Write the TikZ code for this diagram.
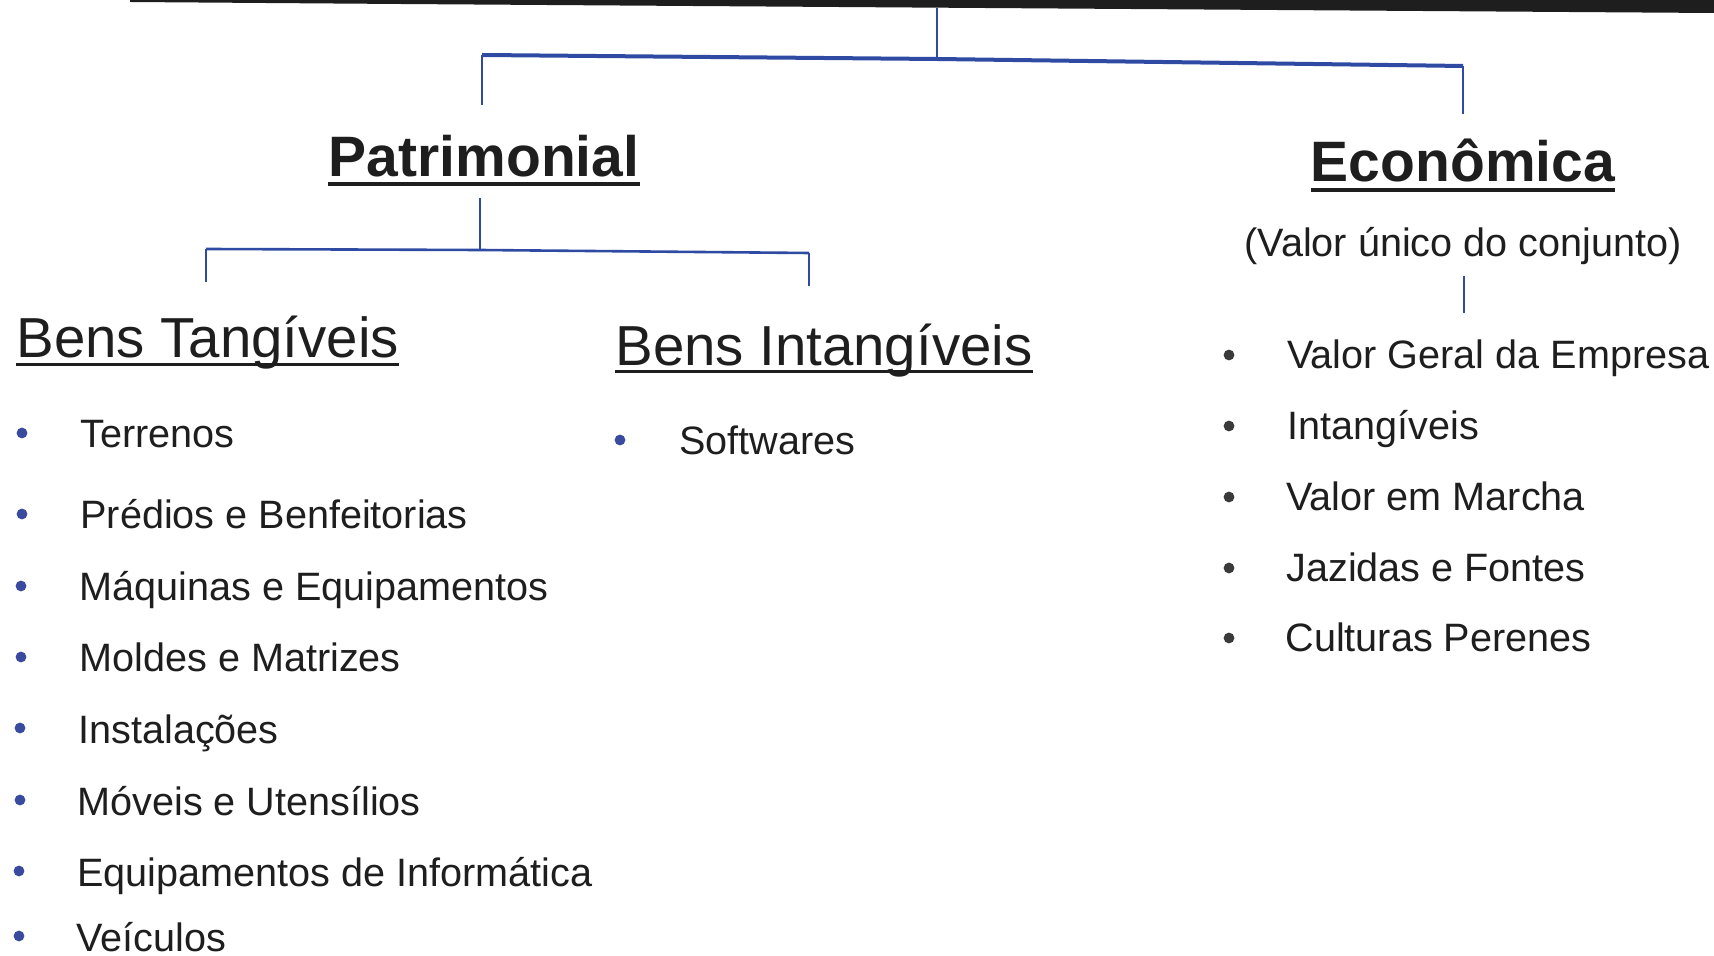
\documentclass[tikz,border=0pt]{standalone}
\usepackage{fontspec}
\setmainfont{Liberation Sans}
\definecolor{lineblue}{HTML}{2F4AA3}
\definecolor{bulletblue}{HTML}{3A4A9E}
\definecolor{bulletgray}{HTML}{3A3A3A}
\definecolor{txt}{HTML}{1E1E1E}
\begin{document}
\begin{tikzpicture}[x=0.5pt,y=-0.5pt,
  conn/.style={draw=lineblue, line width=1.3pt},
  bar/.style={draw=lineblue, line width=2pt},
  titleb/.style={inner sep=0pt, anchor=base, font=\fontsize{28.5}{30}\selectfont\bfseries, text=txt},
  titler/.style={inner sep=0pt, anchor=base west, font=\fontsize{28.2}{30}\selectfont, text=txt},
  item/.style={inner sep=0pt, anchor=base west, font=\fontsize{19.8}{22}\selectfont, text=txt},
  bulblue/.style={circle, fill=bulletblue, inner sep=0pt, minimum size=5.4pt},
  bulgray/.style={circle, fill=bulletgray, inner sep=0pt, minimum size=5.4pt},
  ulbold/.style={draw=txt, line width=2pt},
  ulreg/.style={draw=txt, line width=1.5pt}]
\useasboundingbox (0,0) rectangle (1714,956);
\fill[white] (0,0) rectangle (1714,956);
% top black bar
\fill[txt] (130,0) -- (1714,0) -- (1714,13) -- (400,4) -- (130,2) -- cycle;

% top connectors
\coordinate (top) at (937,8);
\coordinate (j1) at (937,59);
\coordinate (bl1) at (482,55);
\coordinate (br1) at (1463,66);
\coordinate (dl1) at (482,105);
\coordinate (dr1) at (1463,114);
\draw[conn] (top) -- (j1);
\draw[bar] (bl1) -- (j1) -- (br1);
\draw[conn] (bl1) -- (dl1);
\draw[conn] (br1) -- (dr1);

% Patrimonial
\node[titleb] (pat) at (484,177) {Patrimonial};
\draw[ulbold] ([yshift=-3.5pt]pat.base west) -- ([yshift=-3.5pt]pat.base east);
\coordinate (pv1) at (480,198);
\coordinate (pj) at (480,250);
\coordinate (pl) at (206,249);
\coordinate (pr) at (809,253);
\coordinate (pld) at (206,282);
\coordinate (prd) at (809,286);
\draw[conn] (pv1) -- (pj);
\draw[conn] (pl) -- (pj) -- (pr);
\draw[conn] (pl) -- (pld);
\draw[conn] (pr) -- (prd);

% Economica
\node[titleb] (eco) at (1463,182) {Econômica};
\draw[ulbold] ([yshift=-4pt]eco.base west) -- ([yshift=-4pt]eco.base east);
\node[inner sep=0pt, anchor=base, font=\fontsize{19.8}{22}\selectfont, text=txt] (vu) at (1463,257) {(Valor único do conjunto)};
\coordinate (ev1) at (1464,276);
\coordinate (ev2) at (1464,313);
\draw[conn] (ev1) -- (ev2);

% Bens Tangiveis
\node[titler] (bt) at (16,358) {Bens Tangíveis};
\draw[ulreg] ([yshift=-3.5pt]bt.base west) -- ([yshift=-3.5pt]bt.base east);
% Bens Intangiveis
\node[titler] (bi) at (615,366) {Bens Intangíveis};
\draw[ulreg] ([yshift=-3pt]bi.base west) -- ([yshift=-3pt]bi.base east);

% left items
\node[bulblue] (lb1) at (22,433) {};
\node[item] (l1) at (80,448) {Terrenos};
\node[bulblue] (lb2) at (22,514) {};
\node[item] (l2) at (80,529) {Prédios e Benfeitorias};
\node[bulblue] (lb3) at (21,586) {};
\node[item] (l3) at (79,601) {Máquinas e Equipamentos};
\node[bulblue] (lb4) at (21,657) {};
\node[item] (l4) at (79,672) {Moldes e Matrizes};
\node[bulblue] (lb5) at (20,728) {};
\node[item] (l5) at (78,743) {Instalações};
\node[bulblue] (lb6) at (20,800) {};
\node[item] (l6) at (77,815) {Móveis e Utensílios};
\node[bulblue] (lb7) at (19,871) {};
\node[item] (l7) at (77,886) {Equipamentos de Informática};
\node[bulblue] (lb8) at (19,936) {};
\node[item] (l8) at (76,951) {Veículos};

% middle item
\node[bulblue] (mb1) at (620,440) {};
\node[item] (m1) at (679,455) {Softwares};

% right items
\node[bulgray] (rb1) at (1229,355) {};
\node[item] (r1) at (1287,369) {Valor Geral da Empresa};
\node[bulgray] (rb2) at (1229,426) {};
\node[item] (r2) at (1287,440) {Intangíveis};
\node[bulgray] (rb3) at (1229,497) {};
\node[item] (r3) at (1286,511) {Valor em Marcha};
\node[bulgray] (rb4) at (1229,568) {};
\node[item] (r4) at (1286,582) {Jazidas e Fontes};
\node[bulgray] (rb5) at (1229,638) {};
\node[item] (r5) at (1285,652) {Culturas Perenes};
\end{tikzpicture}
\end{document}
